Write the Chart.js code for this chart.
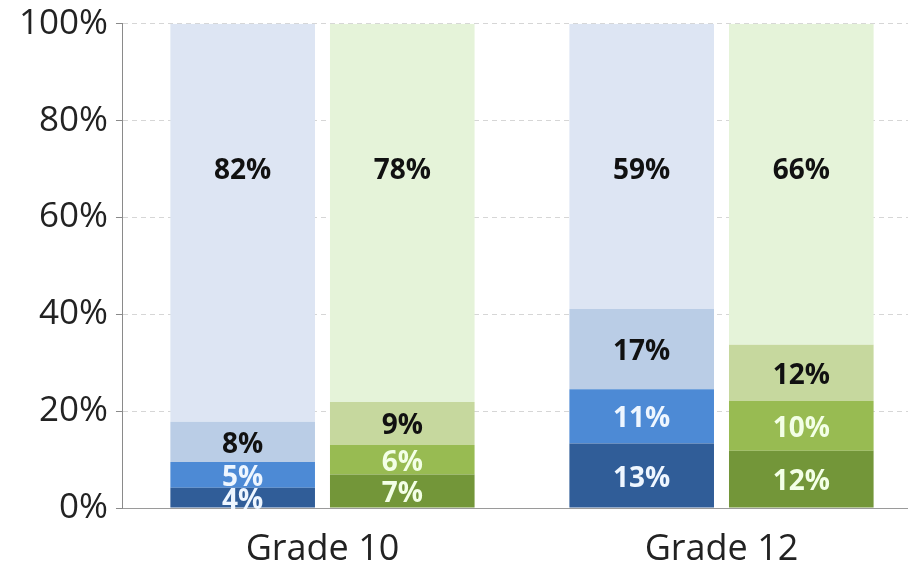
<!DOCTYPE html>
<html>
<head>
<meta charset="utf-8">
<script src="https://cdn.jsdelivr.net/npm/chart.js@4/dist/chart.umd.min.js"></script>
<style>
  html, body { margin: 0; padding: 0; background: #fff; overflow: hidden; }
  #wrap { width: 921px; height: 561px; }
</style>
</head>
<body>
<div id="wrap"><canvas id="chart"></canvas></div>
<script>
// Données (en %)
const grades = ['Grade 10', 'Grade 12']
const blueDark = [4.2, 13.3]
const blueMid = [5.3, 11.2]
const blueLight = [8.3, 16.6]
const blueTop = [82.2, 58.9]
const greenDark = [6.9, 11.8]
const greenMid = [6.1, 10.3]
const greenLight = [8.9, 11.6]
const greenTop = [78.1, 66.3]
const yTicks = [0, 20, 40, 60, 80, 100]

const FONT = '"Open Sans", "DejaVu Sans", sans-serif'

function makeSet(data, stack, color, textColor, top){
  return {
    data: data,
    stack: stack,
    backgroundColor: color,
    borderWidth: 0,
    labelColor: textColor,
    isTop: top,
    barPercentage: 0.906,
    categoryPercentage: 0.8
  }
}

// Plugin maison pour écrire les valeurs dans les barres
const valueLabels = {
  id: 'valueLabels',
  afterDatasetsDraw(chart){
    const ctx = chart.ctx
    const yScale = chart.scales.y
    ctx.save()
    ctx.font = 'bold 28px ' + FONT
    ctx.textAlign = 'center'
    ctx.textBaseline = 'middle'
    chart.data.datasets.forEach((ds, i) => {
      const meta = chart.getDatasetMeta(i)
      meta.data.forEach((bar, j) => {
        let y
        if(ds.isTop) y = yScale.getPixelForValue(69.5)
        else y = (bar.y + bar.base) / 2 + 3
        ctx.fillStyle = ds.labelColor
        ctx.fillText(Math.round(ds.data[j]) + '%', bar.x, y)
      })
    })
    ctx.restore()
  }
}

const config = {
  type: 'bar',
  data: {
    labels: grades,
    datasets: [
      makeSet(blueDark, 'blue', '#305d98', '#eef6ff', false),
      makeSet(blueMid, 'blue', '#4d8ad5', '#eef6ff', false),
      makeSet(blueLight, 'blue', '#bacde6', '#111', false),
      makeSet(blueTop, 'blue', '#dde5f3', '#111', true),
      makeSet(greenDark, 'green', '#739639', '#f3ffe6', false),
      makeSet(greenMid, 'green', '#98bb52', '#f3ffe6', false),
      makeSet(greenLight, 'green', '#c6d89e', '#111', false),
      makeSet(greenTop, 'green', '#e5f3d9', '#111', true)
    ]
  },
  options: {
    responsive: true,
    maintainAspectRatio: false,
    animation: false,
    layout: { padding: { left: 11, top: 0, right: 0, bottom: 0 } },
    plugins: {
      legend: { display: false },
      tooltip: { enabled: false }
    },
    scales: {
      x: {
        stacked: true,
        grid: { display: false },
        border: { display: true, color: '#9a9a9a', width: 1 },
        ticks: { color: '#222', font: { family: FONT, size: 36 }, padding: 12 },
        afterFit: axis => { axis.height = 53 }
      },
      y: {
        stacked: true,
        min: 0,
        max: 100,
        afterBuildTicks: axis => { axis.ticks = yTicks.map(v => ({ value: v })) },
        grid: { color: '#d6d6d6', tickColor: '#8a8a8a', tickLength: 7, lineWidth: 1 },
        border: { display: true, color: '#8a8a8a', width: 1, dash: [5, 4] },
        ticks: {
          color: '#222',
          font: { family: FONT, size: 35, lineHeight: 0.9 },
          padding: 8,
          callback: v => v + '%'
        }
      }
    }
  },
  plugins: [valueLabels]
}

new Chart(document.getElementById('chart').getContext('2d'), config)
</script>
</body>
</html>
